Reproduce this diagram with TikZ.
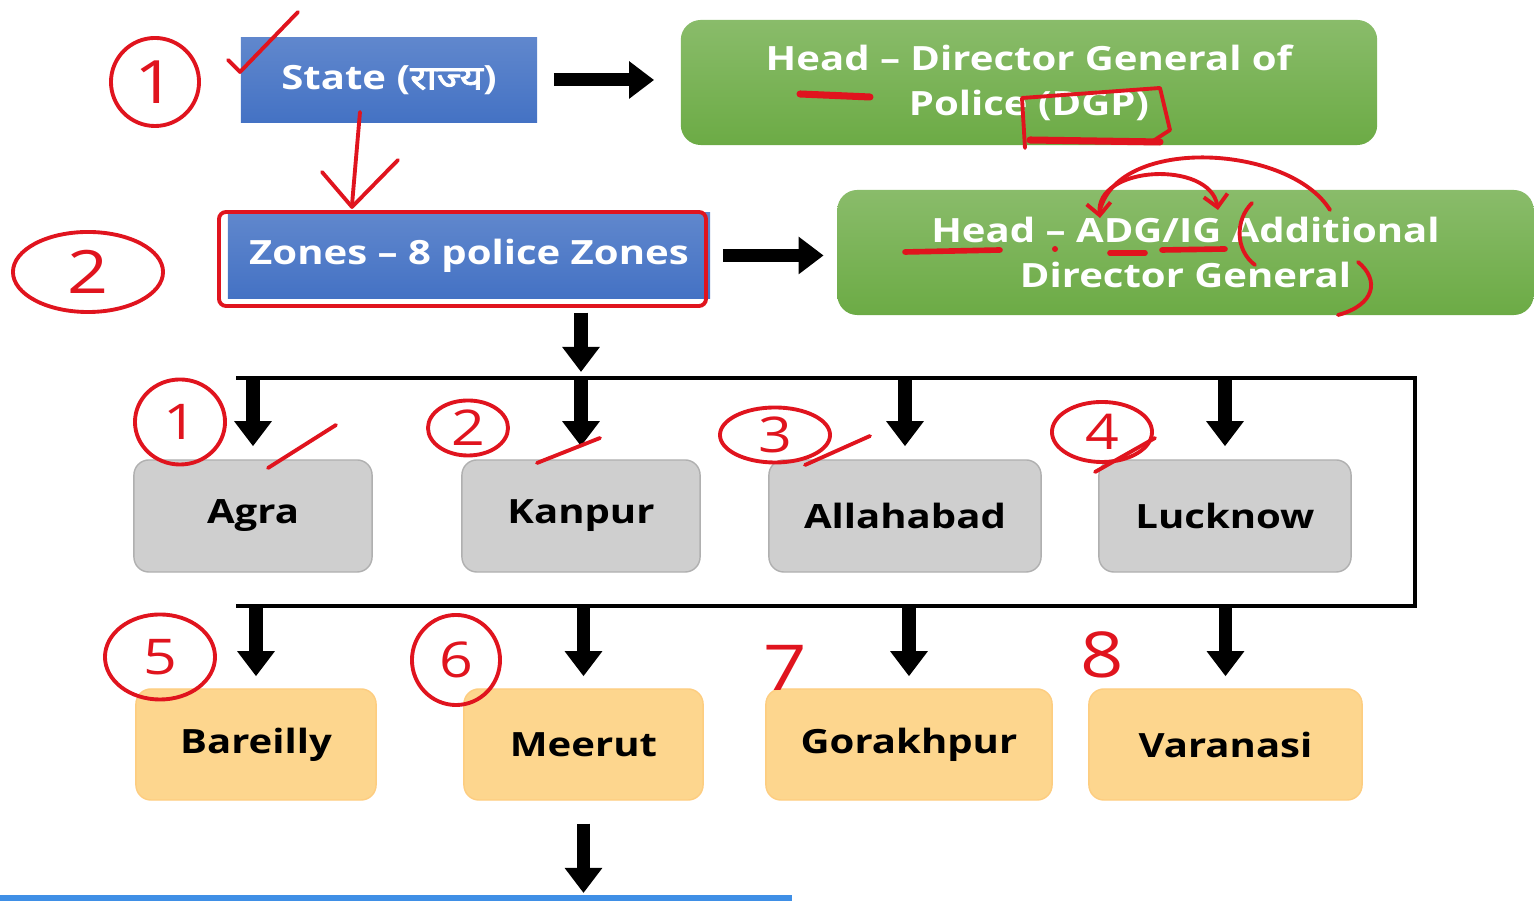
\documentclass[tikz,border=0pt]{standalone}
\usepackage{fontspec}
\setmainfont{Open Sans}[FakeStretch=1.2]
\newfontfamily\hindi{Noto Sans}[Script=Devanagari,FakeStretch=1.2,FakeBold=2.5]
\usetikzlibrary{arrows.meta,shapes.geometric}
\definecolor{bleu}{HTML}{4472C4}
\definecolor{vert}{HTML}{6CAB45}
\definecolor{gris}{HTML}{CFCFCF}
\definecolor{jaune}{HTML}{FDD68E}
\definecolor{rouge}{HTML}{E0141E}
\definecolor{bleuligne}{HTML}{3F8FE6}
\tikzset{
  texte/.style={font=\fontsize{9.5}{12.8}\selectfont\bfseries, inner sep=0pt, align=center},
  bloc/.style={texte, top color=bleu!85!white, bottom color=bleu, text=white},
  chef/.style={texte, rounded corners=0.2cm, top color=vert!80!white, bottom color=vert, text=white, minimum width=6.96cm, minimum height=1.25cm},
  zone/.style={texte, rounded corners=0.15cm, fill=gris, draw=gris!85!black, minimum height=1.12cm},
  ville/.style={texte, rounded corners=0.15cm, fill=jaune, draw=jaune!90!orange, minimum height=1.11cm},
  fleche/.style={line width=3.7pt, -{Triangle[width=0.36cm,length=0.25cm]}},
  bus/.style={line width=1pt},
  stylo/.style={draw=rouge, line width=1.1pt, line cap=round, line join=round},
  num/.style={stylo, text=rouge, font=\fontsize{14}{14}\selectfont, inner sep=0pt},
}
\begin{document}
\begin{tikzpicture}[x=0.01cm, y=-0.01cm]
  \useasboundingbox (0,0) rectangle (1535,901);

  % les deux niveaux du haut
  \node[bloc, minimum width=2.96cm, minimum height=0.84cm] (state) at (389,80) {State ({\hindi राज्य})};
  \node[chef] (dgp) at (1029,82.5) {Head -- Director General of\\Police (DGP)};
  \node[bloc, minimum width=4.82cm, minimum height=0.85cm] (zones) at (469,255.5) {Zones -- 8 police Zones};
  \node[chef] (adg) at (1185.5,252.5) {Head -- ADG/IG Additional\\Director General};

  \draw[fleche, shorten <=0.16cm, shorten >=0.26cm] (state.east) -- (state.east -| dgp.west);
  \draw[fleche, shorten <=0.12cm, shorten >=0.13cm] (zones.east) -- (zones.east -| adg.west);

  % les huit zones
  \foreach \nom/\cx/\w [count=\i] in {Agra/253/2.38, Kanpur/581/2.38, Allahabad/905/2.72, Lucknow/1225/2.52}
    \node[zone, minimum width=\w cm] (z\i) at (\cx,516) {\nom};
  \foreach \nom/\cx/\w [count=\i] in {Bareilly/256/2.40, Meerut/583.5/2.39, Gorakhpur/909/2.86, Varanasi/1225.5/2.73}
    \node[ville, minimum width=\w cm] (v\i) at (\cx,744.5) {\nom};

  \coordinate (busA) at (236,378);
  \coordinate (busB) at (1415,378);
  \coordinate (busC) at (1415,606);
  \coordinate (busD) at (236,606);
  \coordinate (suite) at (583.5,893);
  \draw[bus] (busA) -- (busB) -- (busC) -- (busD);

  \draw[fleche, shorten <=0.14cm, shorten >=0.06cm] (zones.south -| z2) -- (busA -| z2);
  \foreach \i in {1,...,4}{
    \draw[fleche, shorten >=0.13cm] (z\i.north |- busA) -- (z\i.north);
    \draw[fleche, shorten >=0.12cm] (v\i.north |- busD) -- (v\i.north);
  }
  \draw[fleche, shorten <=0.23cm] (v2.south) -- (suite);
  \fill[bleuligne] (0,895) rectangle (792,901);

  % annotations au stylo rouge
  \node[num, circle, minimum size=0.88cm, font=\fontsize{17}{17}\selectfont] (n1) at (155,82) {1};
  \node[num, ellipse, minimum width=1.5cm, minimum height=0.8cm, font=\fontsize{17}{17}\selectfont] (n2) at (88,272) {2};
  \draw[stylo] (228,60) -- (240,72) -- (298,12);
  \draw[stylo] (360,112) -- (352,205);
  \draw[stylo] (322,172) -- (352,207) -- (398,160);
  \draw[stylo, rounded corners=2pt] (219,212) rectangle (706,306);
  \draw[stylo, line width=2pt] (800,94) -- (870,97);
  \draw[stylo] (1025,148) -- (1022,98) -- (1160,88) -- (1170,130) -- (1150,143);
  \draw[stylo, line width=2pt] (1030,140) -- (1160,142);
  \draw[stylo, line width=1.6pt] (905,252) -- (1000,250);
  \fill[rouge] (1055,249) circle (0.03cm);
  \draw[stylo, line width=1.6pt] (1110,253) -- (1145,253);
  \draw[stylo, line width=1.6pt] (1162,250) -- (1225,249);
  \draw[stylo, {Straight Barb[length=0.12cm]}-{Straight Barb[length=0.12cm]}] (1100,218) .. controls (1095,165) and (1210,160) .. (1218,210);
  \draw[stylo] (1100,210) .. controls (1120,135) and (1290,145) .. (1330,210);
  \draw[stylo] (1252,203) .. controls (1235,220) and (1235,250) .. (1255,265);
  \draw[stylo] (1358,262) .. controls (1380,280) and (1375,305) .. (1338,315);

  \foreach \n/\px/\py/\w/\h in {1/180/422/0.9/0.85, 2/468/428/0.8/0.55, 3/775/435/1.1/0.55, 4/1102/432/1.0/0.6, 5/160/657/1.1/0.85, 6/456/660/0.88/0.9}
    \node[num, ellipse, minimum width=\w cm, minimum height=\h cm] (c\n) at (\px,\py) {\n};
  \node[num, draw=none, font=\fontsize{18}{18}\selectfont] (c7) at (785,668) {7};
  \node[num, draw=none, font=\fontsize{18}{18}\selectfont] (c8) at (1102,655) {8};
  \draw[stylo] (268,468) -- (336,425);
  \draw[stylo] (537,463) -- (600,438);
  \draw[stylo] (805,465) -- (870,436);
  \draw[stylo] (1095,472) -- (1155,438);
\end{tikzpicture}
\end{document}
